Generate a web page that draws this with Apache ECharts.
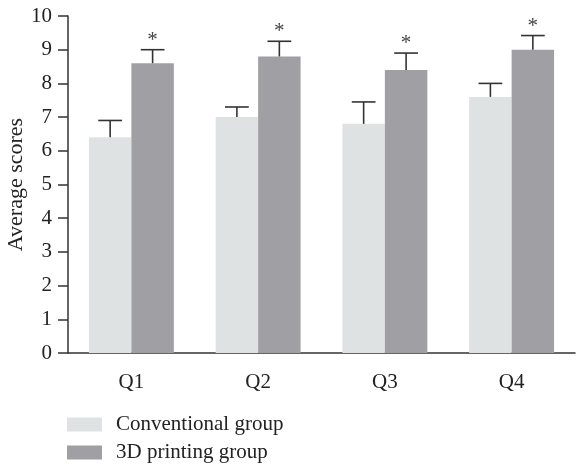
<!DOCTYPE html>
<html>
<head>
<meta charset="utf-8">
<script src="https://cdn.jsdelivr.net/npm/echarts@6/dist/echarts.min.js"></script>
<style>html,body{margin:0;padding:0;background:#fff}#c{width:583px;height:466px}</style>
</head>
<body>
<div id="c"></div>
<script>
var categories = ['Q1', 'Q2', 'Q3', 'Q4'];
var conventional = [6.4, 7.0, 6.8, 7.6];
var conventionalUpper = [6.9, 7.3, 7.45, 8.0];
var printing = [8.6, 8.8, 8.4, 9.0];
var printingUpper = [9.0, 9.25, 8.9, 9.42];
var significance = ['*', '*', '*', '*'];
var seriesNames = ['Conventional group', '3D printing group'];
var yTicks = [0, 1, 2, 3, 4, 5, 6, 7, 8, 9, 10];

var FONT = 'Liberation Serif';
var AXIS = '#333333';
var GAP = 0.33;

function errData(vals, uppers, marks) {
  return vals.map(function (v, i) { return [i, v, uppers[i], marks ? marks[i] : '']; });
}

function makeErr(sideIndex) {
  return function (params, api) {
    var idx = api.value(0);
    var base = api.coord([idx, api.value(1)]);
    var top = api.coord([idx, api.value(2)]);
    var band = api.size([1, 0])[0];
    var barW = band * (1 - GAP) / 2;
    var cx = base[0] + (sideIndex === 0 ? -barW / 2 : barW / 2);
    var capHalf = barW * 0.28;
    var style = { stroke: AXIS, lineWidth: 1.6 };
    var children = [
      { type: 'line', shape: { x1: cx, y1: base[1], x2: cx, y2: top[1] }, style: style },
      { type: 'line', shape: { x1: cx - capHalf, y1: top[1], x2: cx + capHalf, y2: top[1] }, style: style }
    ];
    var mark = api.value(3);
    if (mark) {
      children.push({
        type: 'text',
        style: { text: mark, x: cx, y: top[1] + 1, align: 'center', verticalAlign: 'bottom',
                 font: '21px "' + FONT + '"', fill: '#444' }
      });
    }
    return { type: 'group', children: children };
  };
}

var chart = echarts.init(document.getElementById('c'), null, { renderer: 'canvas' });
chart.setOption({
  animation: false,
  textStyle: { fontFamily: FONT },
  grid: { left: 68, right: 8, top: 16, bottom: 113, containLabel: false, outerBoundsMode: 'none' },
  legend: {
    orient: 'vertical', left: 67, top: 414, padding: 0,
    itemWidth: 35, itemHeight: 14, itemGap: 7,
    icon: 'rect',
    data: seriesNames,
    textStyle: { fontFamily: FONT, fontSize: 21, color: '#222', lineHeight: 20, padding: [0, 0, 0, 9] }
  },
  xAxis: {
    type: 'category', data: categories,
    axisLine: { lineStyle: { color: AXIS, width: 1.5 } },
    axisTick: { alignWithLabel: true, length: 10, lineStyle: { color: AXIS, width: 1.5 } },
    axisLabel: { fontFamily: FONT, fontSize: 21, color: '#222', margin: 19 }
  },
  yAxis: {
    type: 'value', min: 0, max: 10, interval: 1,
    name: 'Average scores', nameLocation: 'middle', nameGap: 41, nameMoveOverlap: false,
    nameTextStyle: { fontFamily: FONT, fontSize: 22, color: '#222' },
    axisLine: { show: true, lineStyle: { color: AXIS, width: 1.5 } },
    axisTick: { show: true, length: 10, lineStyle: { color: AXIS, width: 1.5 } },
    axisLabel: { fontFamily: FONT, fontSize: 21, color: '#222', margin: 16,
                 formatter: function (v) { return yTicks.indexOf(v) >= 0 ? String(v) : ''; } },
    splitLine: { show: false }
  },
  series: [
    { name: seriesNames[0], type: 'bar', data: conventional, barGap: '0%', barCategoryGap: '33%',
      itemStyle: { color: '#dfe2e3' } },
    { name: seriesNames[1], type: 'bar', data: printing, barGap: '0%', barCategoryGap: '33%',
      itemStyle: { color: '#a0a0a4' } },
    { type: 'custom', renderItem: makeErr(0), data: errData(conventional, conventionalUpper), z: 5,
      encode: { x: 0, y: [1, 2] }, silent: true },
    { type: 'custom', renderItem: makeErr(1), data: errData(printing, printingUpper, significance), z: 5,
      encode: { x: 0, y: [1, 2] }, silent: true }
  ]
});
</script>
</body>
</html>
